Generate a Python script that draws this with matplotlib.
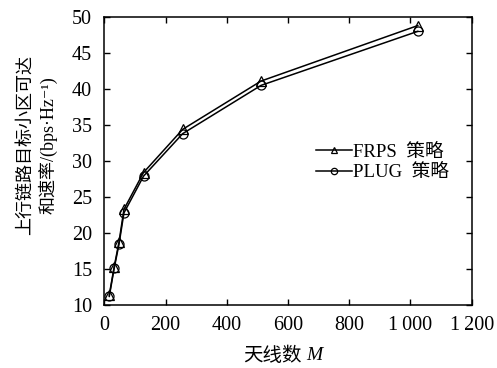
import matplotlib
matplotlib.use('Agg')
import matplotlib.pyplot as plt
from matplotlib.ticker import FixedLocator, FixedFormatter

plt.rcParams['font.family'] = ['Liberation Serif', 'Noto Sans CJK SC', 'DejaVu Serif']

# antenna counts and achievable sum rate
antennas = [16, 32, 48, 64, 128, 256, 512, 1024]
frps = [11.4, 15.3, 18.8, 23.3, 28.4, 34.4, 41.1, 48.8]
plug = [11.2, 15.1, 18.5, 22.8, 27.9, 33.8, 40.5, 48.0]

x_ticks = [0, 200, 400, 600, 800, 1000, 1200]
x_labels = ['0', '200', '400', '600', '800', '1\u2009000', '1\u2009200']
y_ticks = [10, 15, 20, 25, 30, 35, 40, 45, 50]

fig = plt.figure(figsize=(4.97, 3.68), dpi=100)
ax = fig.add_axes([0.210, 0.171, 0.739, 0.783])

ax.plot(antennas, frps, '-', marker='^', color='black', lw=1.1,
        markersize=7, markerfacecolor='none', markeredgewidth=0.9,
        label='FRPS  策略')
ax.plot(antennas, plug, '-', marker='o', color='black', lw=1.1,
        markersize=6.5, markerfacecolor='none', markeredgewidth=0.9,
        label='PLUG  策略')

ax.set_xlim(0, 1200)
ax.set_ylim(10, 50)
ax.xaxis.set_major_locator(FixedLocator(x_ticks))
ax.xaxis.set_major_formatter(FixedFormatter(x_labels))
ax.set_yticks(y_ticks)
ax.tick_params(direction='in', top=True, right=True, length=4, width=1,
               labelsize=14.5)
ax.tick_params(axis='x', pad=8)
ax.tick_params(axis='y', pad=9)
for s in ax.spines.values():
    s.set_linewidth(1.1)

# x label: CJK text plus italic M
fig.text(302 / 497, 1 - 356 / 368, '天线数', fontsize=14, ha='right', va='center')
fig.text(306 / 497, 1 - 355 / 368, 'M', fontsize=14, ha='left', va='center',
         style='italic')

ax.set_ylabel('上行链路目标小区可达\n和速率/(bps·Hz\u207b\u00b9)', fontsize=13,
              linespacing=1.3)
ax.yaxis.set_label_coords(-0.127, 0.555)

ax.legend(loc='center right', bbox_to_anchor=(0.94, 0.495), frameon=False,
          fontsize=13.5, handlelength=1.9, handletextpad=0.1, markerscale=0.7,
          borderpad=0, labelspacing=0.2, borderaxespad=0)

fig.savefig('out.png', dpi=100)
